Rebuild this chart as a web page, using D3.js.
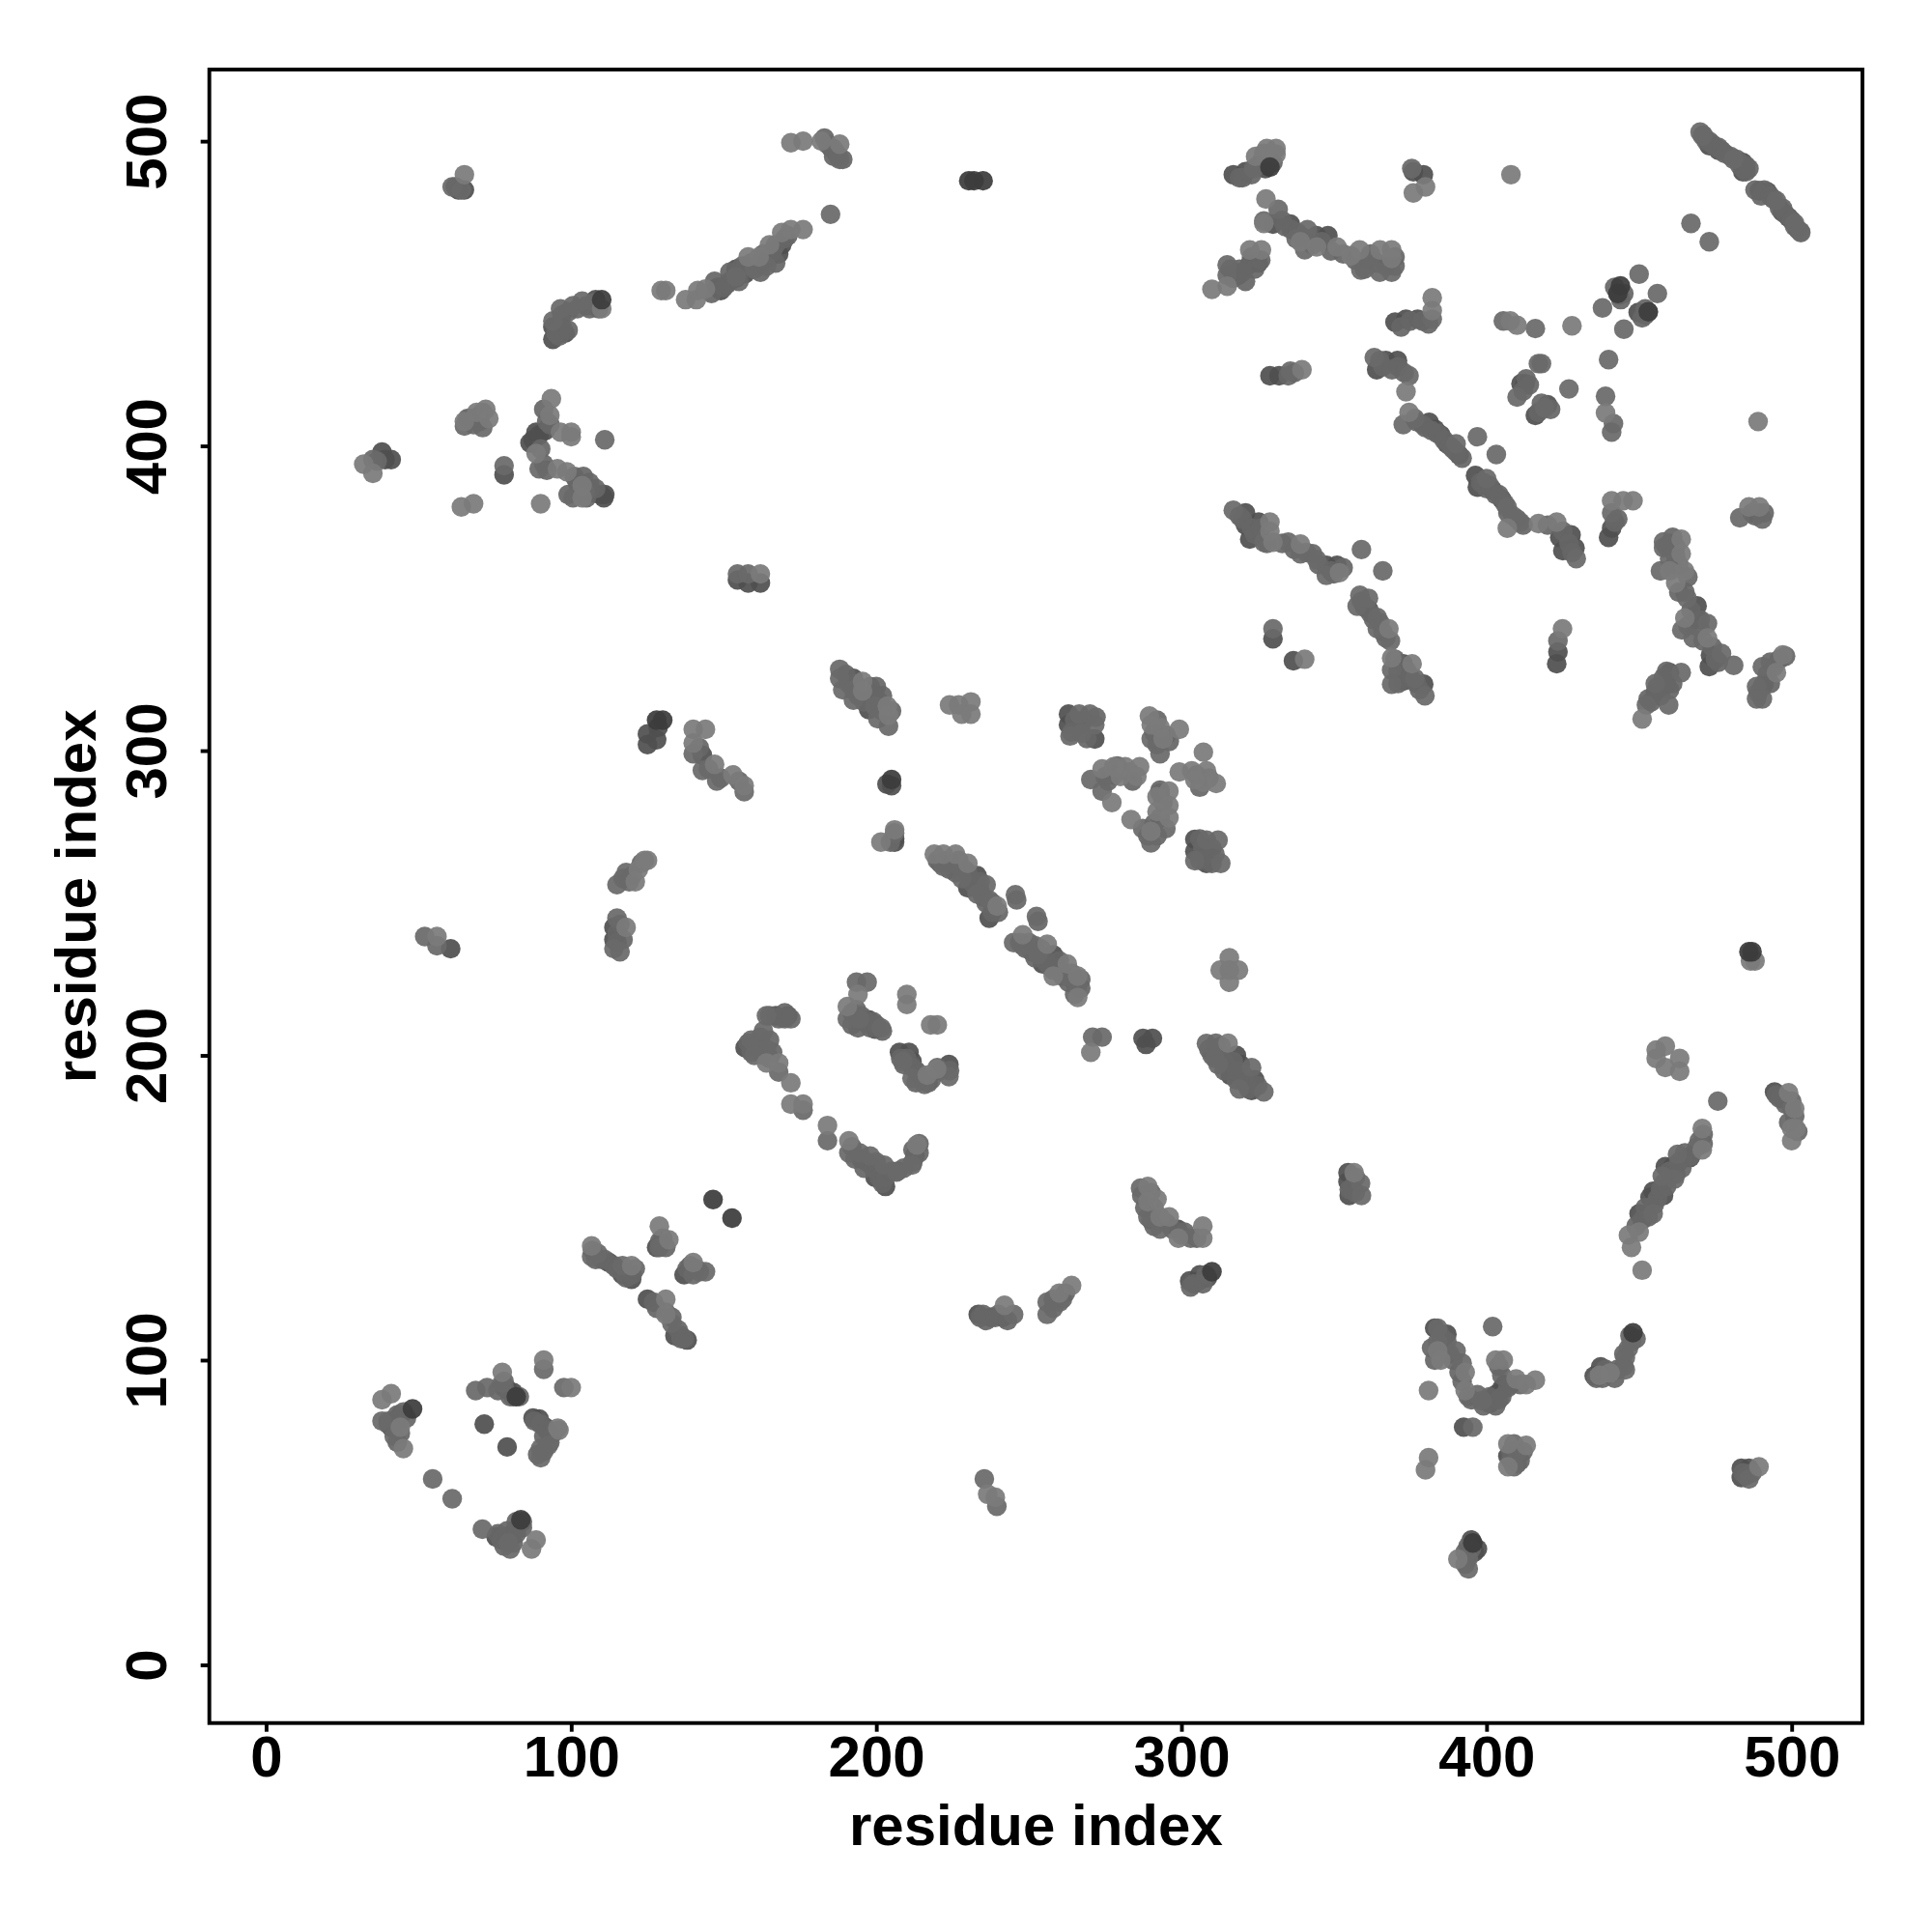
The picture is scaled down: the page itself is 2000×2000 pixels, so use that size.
<!DOCTYPE html>
<html><head><meta charset="utf-8">
<script src="https://cdnjs.cloudflare.com/ajax/libs/d3/7.8.5/d3.min.js"></script>
<style>html,body{margin:0;padding:0;background:#fff}svg{display:block}text{font-family:"Liberation Sans",Arial,sans-serif;font-weight:bold;fill:#000}</style>
</head><body><div id="chart"></div>
<script>
const xTicks=[0,100,200,300,400,500];
const yTicks=[0,100,200,300,400,500];
const axisLabel="residue index";
const fillContacts=[[471,502],[472,500],[473,500],[474,499],[475,498],[476,498],[477,497],[478,496],[480,495],[482,494],[483,492],[484,491],[485,490],[485,492],[486,491],[488,484],[490,482],[491,484],[493,482],[494,481],[496,478],[497,478],[498,476],[500,474],[501,472],[502,471],[503,470],
[377,408],[379,407],[380,406],[382,405],[384,404],[386,402],[388,400],[389,399],[390,398],[392,396],[399,388],[398,388],[400,386],[401,387],[403,384],[404,384],[406,381],[407,378],[410,376],[412,374],[420,374],[425,372],[427,368],[428,365],
[319,377],[320,376],[323,373],[324,371],[326,373],[328,368],[333,368],[337,366],[341,365],[345,361],[349,359],[350,358],[353,360],
[359,349],[360,347],[362,345],[363,343],[365,342],[366,339],[367,337],[370,330],[371,326],[371,322],[374,326],[375,324],[377,322],[378,320],
[316,458],[317,455],[319,458],[320,457],[321,454],[323,462],[324,458],[326,461],[333,474],[334,472],[336,471],[338,470],[339,469],[342,468],[343,466],[346,467],[349,464],[353,463],[357,461],[360,458],[362,463],[364,460],[367,459],[370,459],[370,462],
[319,488],[320,488],[323,489],[325,492],[326,493],[329,494],[330,493],
[40,80],[42,80],[43,82],[45,83],[46,81],[44,76],[43,73],[40,79],
[76,90],[78,93],[80,88],[81,88],[83,88],[78,91],[88,80],[90,79],[92,77],[93,76],[91,75],[89,69],[91,70],[93,73],[94,76],
[76,43],[77,41],[78,39],[79,44],[80,41],[81,40],[82,43],[82,47],[84,47],[84,45],
[107,136],[108,133],[110,133],[111,133],[114,131],[115,130],[117,129],[118,127],[120,128],[121,130],
[127,119],[128,117],[133,114],[135,110],[136,108],[136,107],[137,107],[130,140],[131,137],[129,139],[138,130],[139,131],[141,130],[142,129],
[158,204],[159,201],[160,203],[162,206],[163,200],[165,205],[165,199],[166,201],[165,213],[168,212],[170,212],[170,214],[172,212],
[192,170],[193,166],[195,166],[196,163],[197,165],[199,163],[200,165],[201,160],[202,158],[203,160],[205,162],[207,162],[209,163],[212,165],[212,169],[214,168],[214,171],
[192,214],[192,210],[194,209],[195,213],[196,211],[198,209],[199,211],[200,210],[202,208],
[208,199],[209,197],[210,199],[212,196],[213,195],[214,194],[213,191],[217,191],[218,192],[221,195],[224,195],[220,196],
[220,264],[221,263],[223,264],[224,261],[226,260],[227,264],[229,261],[230,260],[231,257],[232,256],[234,257],[234,254],[235,252],[236,250],[238,250],[238,247],[240,247],[246,251],[253,244],
[247,237],[249,235],[250,237],[251,234],[252,232],[254,235],[255,232],[256,230],[257,229],[258,228],[260,228],[260,231],[261,226],[263,224],[264,227],[265,224],[267,222],[267,225],[265,220],
[117,258],[120,259],[123,263],[115,240],[115,237],[116,243],[117,238],
[309,202],[310,200],[312,201],[313,199],[314,198],[314,195],[317,198],[318,195],[318,192],[320,194],[321,191],[322,189],[325,190],[313,203],
[287,154],[288,150],[290,155],[291,150],[290,146],[291,144],[295,145],[297,143],[300,141],[301,142],[305,140],
[449,144],[451,146],[452,150],[453,147],[455,151],[456,153],[457,156],[458,158],[459,157],[460,162],[462,161],[463,165],[464,163],[465,168],[467,167],[469,170],[471,174],[471,171],
[382,104],[383,100],[385,108],[386,104],[387,106],[388,102],[389,100],[391,96],[392,93],[394,88],[395,87],
[399,85],[401,88],[403,85],[404,87],[405,88],[407,91],[408,92],[405,95],[404,98],[411,92],
[408,70],[408,67],[411,67],[412,70],[410,66],[409,68],
[436,94],[438,94],[439,97],[441,96],[442,94],[443,97],[445,98],[447,108],[449,107],[445,102],
[495,187],[496,186],[498,184],[500,185],[499,178],[502,175],[501,180],
[484,63],[485,62],[487,63],[393,37],[394,39],[395,38],[393,33],
[234,114],[235,115],[236,113],[239,114],[240,115],[243,113],[258,120],[261,120],[262,122],[258,117],
[303,124],[304,125],[307,125],[308,128],[356,156],[357,160],[355,156],[357,155],
[95,437],[97,439],[97,443],[99,444],[102,445],[105,446],[106,445],[109,445],[96,436],[99,438],
[146,450],[147,454],[150,452],[151,453],[152,454],[152,457],[155,454],[156,459],[157,459],[159,460],[161,459],[162,457],[163,463],[166,464],[167,460],[167,466],[170,468],[171,469],
[185,498],[187,496],[189,494],[186,495],[183,501],
[91,412],[92,408],[93,407],[90,399],[91,394],[92,392],[101,390],[102,388],[104,390],[106,386],[105,383],[108,386],[99,384],[106,388],
[66,409],[67,409],[70,408],[70,410],[71,411],
[190,325],[191,322],[193,322],[194,318],[196,316],[198,316],[201,316],[202,313],[198,321],[200,321],[202,318],[205,313],
[142,301],[145,294],[149,291],[155,290],
[265,310],[268,310],[272,311],[264,306],[269,304],
[276,290],[278,292],[279,295],[283,293],[284,290],[293,287],[294,283],[293,278],[291,276],[289,272],[292,272],[293,286],
[291,306],[292,310],[295,305],[296,303],[292,302],
[306,271],[310,268],[306,264],[311,266],[310,263],[307,268],[305,292],[306,288],[309,291],
[372,439],[375,441],[379,441],[381,440],[365,428],[366,426],[369,425],[371,426],[373,424],[335,423],[337,424],
[412,418],[413,422],[414,420],[417,411],[418,414],[421,412],[442,452],[444,448],[445,450],[451,442],[452,443],[452,445],
[459,367],[460,368],[461,370],[462,367],[462,364],[461,360],[463,361],[466,357],[463,352],[465,352],[467,346],[466,341],[470,340],[471,336],[470,343],[475,330],[474,334],[476,329],
[453,317],[454,316],[456,321],[457,318],[458,324],[459,326],[460,320],[461,322],
[491,322],[492,325],[493,329],[496,330],[498,331],[489,319],[493,322],[443,376],[442,375],[487,378],[488,377],[489,378],[491,378]];
const darkContacts=[[62,485],[63,484],[65,484],[148,452],[149,451],[154,455],[154,458],[157,456.5],[165,462],[169,466],[168,463],[94,435],[94,439],[98,437],[96.5,437],[108,448],
[38,398],[39,395.5],[41,395.5],[86.5,401],[87.5,402],[88.5,404.5],[89.5,403.5],[91.5,405],[78,390.5],[110.7,383],[111,384],[109.7,384],[107.7,384.5],[154.5,356],[158,355],[162,355],
[192.5,323.7],[199.5,318.6],[197.5,313.5],[125,302],[125,305.5],[128.5,307.6],[128,303.6],[205,288.5],[203.5,289],[206,271],[206,270],[143,298.5],
[233,259],[230,255],[237,245],[254.5,230],[258,233],[259,230],[114,242],[114,238],[60.5,235],[157,202.5],[171,213],[167,213],[203,157],[202.6,161],[199.6,160],[212.7,167.3],
[197.5,211.7],[199.6,208.6],[207.6,201],[210.7,201],[211.7,198],[223.8,197],[287.4,205.6],[288.4,203.6],[290.5,205.6],[315,198],[318,200],[319.3,197],[324,192],[323,188.5],[316,193.5],
[354.6,161.5],[354.6,158.5],[355,154],[298.7,143],[302.7,126],[305.7,126],[306,128],[308.5,127],[237.5,114],[241.5,114],[233.4,115],[383,110.5],[387,108.5],[400,86.7],[402,87.7],[401,85.7],[403,88.7],[405,90.7],[406,92],
[392.5,78],[407,68.5],[395,41],[397,38],[396,37],[483.5,64.5],[486,64.5],[483.5,61.5],[497,185.7],[494.4,188],[466.7,166.5],[461,163.5],[458.6,163.5],[454.6,155.4],[458,154],[453.6,153.4],[450,148],[437.4,97.8],[435.3,94.8],
[44,82],[43,80.5],[41,78],[71.5,79],[79,71.5],[81,89.4],[79,90.5],[87.5,81],[89.5,80.7],[91.5,78],[75.4,42],[78.4,42],[80.4,42],[81.4,44],[112.4,132],[119.8,126.5],[116.8,128],[128,137],[137,128],[125,120],[134,108],[138,106.6],
[317,489],[321,490],[327.5,491],[376,490],[379.3,489],[473,498.5],[476,497],[484,490],[484,493],[489.4,483.7],[492,483.4],[497,476.7],[499,475],[330,472.8],[335.7,472.8],[344.3,469],[348,469],[318.6,456],[322.4,459.6],[325.2,460],
[370,440.6],[373.6,441.6],[377.4,441.6],[329,423],[332,423],[367,428],[364,425],[370.8,428],[381.2,407.7],[383.1,405.4],[385,403.6],[387,400.7],[391,397],[396.4,390.3],[397,386.5],[402,385.5],[404.9,382.6],[424,370],[427.7,370.8],[425,365.6],[429,366.5],
[441,373],[440,370],[412.6,420.4],[411.3,420.4],[416,410],[420,413.5],[443.5,449.5],[449.7,443.8],[321,378],[321,374],[325.3,375],[322.4,369.4],[347.5,360.8],[351,360.8],[361.3,346.4],[372.7,328.5],[372.7,322.8],[379.4,321.8],[330,336.7],[336.7,329.5],[423,328.5],[423.4,332.4],
[469,347.5],[469,343.5],[473.4,331.3],[473,327.6],[460,325.6],[459,321.8],[455.3,319],[490.4,321],[263,308.5],[267,308.5],[271.6,303.8],[263,312],[304.4,270.9],[304.4,267],[309,266.9],[308.2,263]];
const midContacts=[[61,485],[64,484],[184,499],[186,497.5],[187.5,495],[188,494],[185,476],[154,455.5],[160,458],[164,459],[94,441],[96.5,445],[100.6,446],[103.6,447.5],[107.7,447],
[35,395.5],[36.4,395],[65,406.5],[68,407],[71,406],[89.5,392.5],[111,402],[78,393.5],[100.6,383],[104.6,385],[154.5,358],[158,358],
[188,326.7],[188,323.7],[189,320],[192.5,316.6],[192.5,320],[199.5,314.6],[200.5,310.5],[204,308],[140,299],[143,293.5],[147.7,290],[156.7,286.5],[204.6,270],[206,273],
[222,262],[225,263],[228,258],[236,256],[233,253],[237,251],[245.6,252.7],[252.5,245.6],[245,237],[248,236],[252,236],[253,233],[262.6,226],[266,223],[118,260],[119,257],[115,256],[115,245],[114,235],[116,234],[52,239],[56,236],
[159,205],[161,203],[163,208],[164,213],[164,202],[160,200],[168,194.5],[176,182],[184,172],[191,168],[194.5,168],[198,167],[202.6,164],[206.6,161.7],[211.7,164],[193.5,224],[197,224],[190.5,212],[193.5,215],[194.5,212],[201.6,209],[208.7,198],[211.7,192.5],[215.8,190.5],[223.8,193],
[270.9,206],[274,206],[308.2,203.9],[311.3,204],[311,199],[312,197],[323,196],[319,189],[327,188],[358.7,158],[359,154],[286.6,156.4],[289,147],[293,143],[303,140],[256,115],[256,119],[260,119],[245,115],[235.4,61],[239.5,52],
[384,110.5],[384,106],[390,103],[392,99],[397,88.7],[398.6,86.7],[402,111],[395.5,78],[409,72.5],[410,69.5],[409,65],[394,35],[394,31.5],[486,61],[475.8,185],[500,182.7],[469.7,172],[462.6,167.5],[461.6,159.4],[457.6,160.4],[454.6,148],[445.5,96.8],[446.5,103.9],[445.5,100.8],[447.5,106],
[38,80],[42,75],[54.6,61],[61,54.5],[68.7,90],[72.4,91],[77.4,92.5],[90,71],[90,68],[92.5,72],[91,97],[97.6,91],[70.9,44.5],[79.4,40],[80,38],[106.7,134],[108.7,135],[116.8,131],[128.9,137],[140,128],[144,129],[131,115.7],[133,112],
[323.7,491],[375.5,491],[470,503],[470.8,501.7],[481,494],[495,480.5],[501,473],[502.8,470.4],[467,473],[473,467],[331.7,477.6],[327,473.8],[341.3,471],[337.6,468],[340.4,464.4],[358.8,457.7],[361.3,461.4],[368.9,457],[365,457],[315,456],[315,459.4],
[382.2,441.6],[335.7,424.5],[363.2,429],[374.6,423],[372.7,407],[376.5,409],[390,400.7],[397,403],[403.2,397.2],[400,389.3],[406.8,379.8],[408.7,377],[411,375],[429.4,363],[441,378],[483,376.4],[490.4,376],[441,404.5],[441.6,407.3],[439,416.3],[440,428.3],[427,418.7],[417,427],[418,427],[410,416],[419,412.5],[405.5,441],[416,438.5],
[438,445.3],[445,438.3],[450,456.4],[456,450],[359,366],[366,359],[317,378.9],[327,368.4],[335,368.4],[339,364.6],[343,364.6],[344.3,362.7],[347.5,357.5],[358.5,351],[357.6,347.4],[361.3,350],[364.2,343.7],[364.2,340],[368.5,336],[368.9,326.5],[368.9,321.8],[376.5,323.7],[379.8,318],[330,340],[423.4,336],
[458,368.5],[458,366.6],[457,359],[460,363],[465.7,350],[464,339.6],[467.7,337],[472.4,341.7],[477,331.9],[481,328],[463.8,325.6],[459.7,315],[452.4,315],[455.3,322],[494.2,327.5],[490.4,327.5],[488.5,321],[488.5,317],[490.4,317],
[266.5,312],[270,312],[263.5,304.8],[271.6,308.5],[267.3,305.7],[293,299],[290.1,303.8],[270.3,290.5],[275,291.5],[274,286.7],[290,269.7],[287.3,274.4],[294.9,274.4],[312.9,263],[304.4,263.9],[308.2,270.6],[312,270.6]];
const lightContacts=[[65,489],[172,499.5],[176,500],[182,500],[188,499],[129.5,451],[131,451],[137.5,448],[141,448],[141.5,451],[144,451.5],[158,462],[161.6,462],[165,466],[169,470],[172,471],[176,471],
[110,445],[32,394],[35,391],[65,408],[69,411],[72,412],[73,409],[93.5,415.5],[93,410],[88.5,397.5],[95.5,392.5],[98.6,391.5],[96.5,404.5],[100,404.5],[100,403],[90,381],[103.6,387],[103.6,383],[64,380],[68,381],[162,358],
[195.5,322.7],[195.5,319.6],[203.6,314.6],[204,311.6],[140,307],[144,307],[140,302.5],[147,295.5],[153,292],[156.7,288.5],[201.5,270],[206,274],
[219,266],[222,266],[226,266],[230,263],[239.6,249],[248,239.6],[256,236.5],[262.6,230],[258,226],[266,226],[266,219],[121,257],[122,261],[124,264],[125,264],[118,242],[56,239],[44,78],
[164,197.5],[168,197.5],[172,191],[172,184],[176,184],[184,177],[191,172],[213.3,170.6],[194,220],[190.5,216],[210,220],[210,216.7],[217.8,210],[220,210],[219.8,195.5],[216.7,193.5],
[270.3,201],[315.3,204],[356.6,161.5],[289,157],[289,152],[292,152.8],[293,147],[296,147],[299,140],[307,140],[307,144],[260,122],[264,124.5],[242,118],[236.5,56],[239,55],
[381,90],[381,68],[380,64],[384,103],[385,100],[393,96],[393,90],[403,100],[405.5,100],[409.7,93.8],[413,92],[416,93.4],[407,72.5],[413,72],[407,65],[390.6,34.7],[489.3,65],[499,187.7],[501,182.5],[500,176],[501.4,176],[500,172],
[470.7,176],[470.7,169],[450,142],[446.5,141],[447.5,137],[451,129.5],[440.5,95.8],[437,95],[455.6,201.8],[455.6,199],[458.6,203],[458.6,196],[463.3,199],[463.3,194.8],
[38,87],[41,89],[45,71],[77.4,96],[91,100],[100,91],[96,77],[95.6,77.7],[88.5,41],[87,38],[106.7,137.5],[119.8,131],[128.9,144],[132,139.5],[140,132],[131,120],[131,115],
[324.3,495],[327,496],[328,497.6],[331,497.6],[331,495.7],[376,483],[380,485],[408,489],[327.7,481],[327,473],[339,467],[344.3,465.3],[351,465.3],[355.6,462.4],[358.4,464.3],[365.1,464.3],[368.9,464.3],[368.9,461.5],[326.2,464.3],[322.4,464.3],[315,452.4],[310,451.4],
[382.2,444.4],[382.2,448.6],[339.5,425],[373.6,417.8],[374.6,411],[406.8,373],[417,374.5],[423,375],[441,382],[444.8,382],[448,382],[486,380],[489.4,380],[489,408],[439,410.8],[407.8,441],[410,439.6],[428,439.4],[453,443.9],
[329,375],[329,372],[330,368.4],[339,367.8],[351.8,358.4],[368,340],[368.9,330.4],[375.6,328.5],[340.4,330],[424.9,340],[463.8,369.4],[463.8,364.6],[460,359],[464.9,359],[462,355],[465,343.5],[472.4,337],[451,310.4],
[497.1,331.4],[495,325.6],[289.5,311.4],[290.1,308.5],[293,307.6],[299.3,307],[294,303.8],[307.2,299.5],[274,294],[277.8,294.7],[281.6,294.7],[286.3,294.7],[280,291.5],[285.4,291.5],[277.2,283],[283.5,277.4],[290,273.5],[295.9,286.7],[292,284.9],[295.9,282],[292,280],[295.9,278],
[299.3,293],[303.4,293.4],[308.2,293.4],[307.2,289.6],[311.4,289.2],[304.4,290.4],[488,231],[486.5,231],[315.7,232],[312.7,228],[315.7,228],[315.7,224],[318.7,228],[224,315],[227,315],[231,316],[228,312],[231,312]];
const deepContacts=[[130,310],[128,310],[146.5,152.7],[152.7,146.6],[310,129],[235,487],[232,487],[486,234],[487,234],[448,109],[83.5,47.6],[48,84],[82,88],[110,448],[395.5,40],[205,290.5],[230.3,487],[443.9,452.5],[443,450],[453,444],[329,491.5]];

const frame={left:216.7,right:1928,top:72,bottom:1783.7};
const svg=d3.select("#chart").append("svg").attr("width",2000).attr("height",2000);
const x=d3.scaleLinear().domain([-18.6,523.2]).range([frame.left,frame.right]);
const y=d3.scaleLinear().domain([-19.1,523.5]).range([frame.bottom,frame.top]);

const groups=[[darkContacts,"#505050"],[fillContacts,"#666666"],[midContacts,"#696969"],[lightContacts,"#7b7b7b"],[deepContacts,"#3c3c3c"]];
groups.forEach(([pts,col])=>{
  svg.append("g").selectAll("circle").data(pts).join("circle")
    .attr("cx",d=>x(d[0])).attr("cy",d=>y(d[1])).attr("r",10.2)
    .attr("fill",col).attr("fill-opacity",0.93);
});

svg.append("rect").attr("x",frame.left).attr("y",frame.top)
  .attr("width",frame.right-frame.left).attr("height",frame.bottom-frame.top)
  .attr("fill","none").attr("stroke","#000").attr("stroke-width",3.9);

const fs=60;
const gx=svg.append("g").attr("transform",`translate(0,${frame.bottom})`)
  .call(d3.axisBottom(x).tickValues(xTicks).tickSize(9).tickPadding(0).tickFormat(d3.format("d")));
gx.select(".domain").remove();
gx.selectAll("line").attr("stroke","#000").attr("stroke-width",3.9);
gx.selectAll("text").attr("font-size",fs).attr("y",55).attr("dy",0).attr("fill","#000");

const gy=svg.append("g").attr("transform",`translate(${frame.left},0)`)
  .call(d3.axisLeft(y).tickValues(yTicks).tickSize(9).tickPadding(0).tickFormat(d3.format("d")));
gy.select(".domain").remove();
gy.selectAll("line").attr("stroke","#000").attr("stroke-width",3.9);
gy.selectAll("text").attr("font-size",fs).attr("text-anchor","middle").attr("dy",0).attr("x",null).attr("y",null)
  .attr("transform","translate(-44.5,0) rotate(-90)").attr("fill","#000");

svg.append("text").attr("x",(frame.left+frame.right)/2).attr("y",1910).attr("text-anchor","middle").attr("font-size",60).text(axisLabel);
svg.append("text").attr("transform",`translate(99,${(frame.top+frame.bottom)/2}) rotate(-90)`).attr("text-anchor","middle").attr("font-size",60).text(axisLabel);
</script></body></html>
